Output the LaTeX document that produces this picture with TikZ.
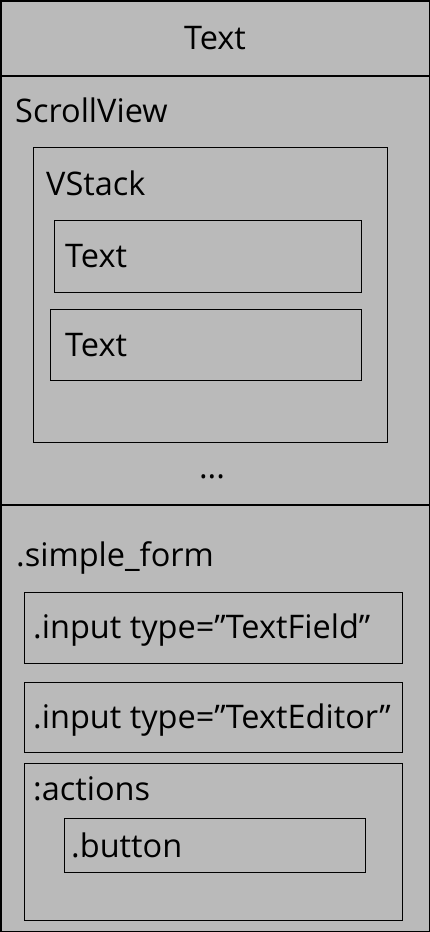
\documentclass[tikz,border=0pt]{standalone}
\usepackage{fontspec}
\setmainfont{Open Sans}
\definecolor{bg}{HTML}{BABABA}
\begin{document}
\begin{tikzpicture}[x=1pt,y=-1pt,
  box/.style={draw=black,line width=1.3pt,fill=none,inner sep=0pt,anchor=north west},
  lbl/.style={anchor=base west,inner sep=0pt,font=\fontsize{32.5}{36}\selectfont},
  clbl/.style={anchor=base,inner sep=0pt,font=\fontsize{32.5}{36}\selectfont}]
\useasboundingbox (0,0) rectangle (430,932);
\fill[bg] (0,0) rectangle (430,932);
\draw[line width=1.5pt] (0.75,0.75) rectangle (429.25,931.25);
\draw[line width=2pt] (0,76) coordinate (d1l) -- (430,76) coordinate (d1r);
\draw[line width=1.5pt] (0,505) coordinate (d2l) -- (430,505) coordinate (d2r);
% top
\node[clbl] (title) at (215,49) {Text};
% scrollview
\node[lbl] (sv) at (15,122) {ScrollView};
\node[box,minimum width=354pt,minimum height=295pt] (vstack) at (33,147) {};
\node[lbl] (vsl) at (46,195) {VStack};
\node[box,minimum width=307pt,minimum height=72pt] (t1) at (54,220) {};
\node[lbl] (t1l) at (65,267) {Text};
\node[box,minimum width=311pt,minimum height=71pt] (t2) at (50,309) {};
\node[lbl] (t2l) at (65,356) {Text};
\node[clbl] (dots) at (212,478) {...};
% form
\node[lbl] (sf) at (16,566) {.simple\_form};
\node[box,minimum width=378pt,minimum height=71pt] (tf) at (24,592) {};
\node[lbl] (tfl) at (33,638) {.input type=”TextField”};
\node[box,minimum width=378pt,minimum height=70pt] (te) at (24,682) {};
\node[lbl] (tel) at (33,728) {.input type=”TextEditor”};
\node[box,minimum width=378pt,minimum height=157pt] (act) at (24,763) {};
\node[lbl] (actl) at (33,800) {:actions};
\node[box,minimum width=301pt,minimum height=54pt] (btn) at (64,818) {};
\node[lbl] (btnl) at (71,857) {.button};
\end{tikzpicture}
\end{document}
